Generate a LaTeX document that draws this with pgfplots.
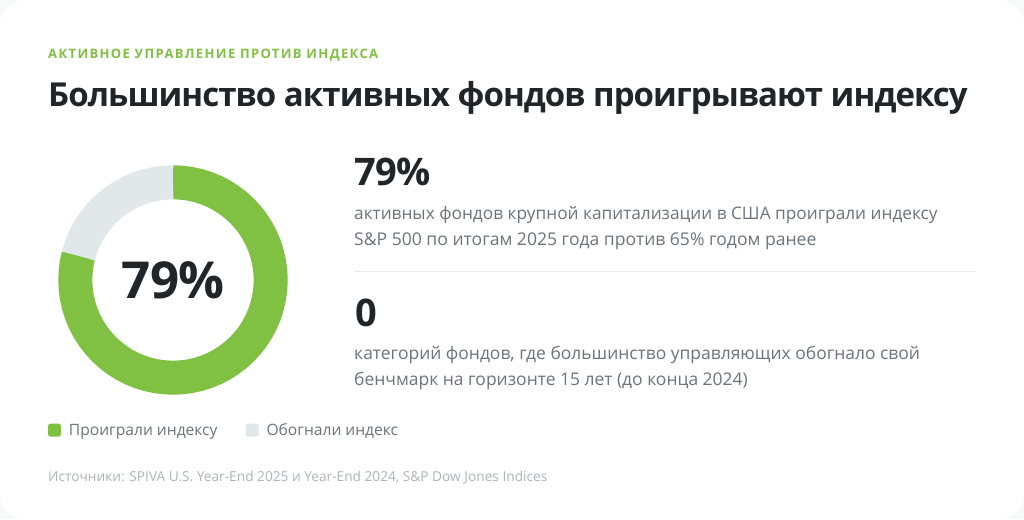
\documentclass[border=0pt]{standalone}
\usepackage{fontspec}
\setmainfont{Open Sans}
\newcommand{\semi}{\bfseries}
\usepackage{pgfplots}
\pgfplotsset{compat=1.18}
\usepgfplotslibrary{polar}
\definecolor{grn}{HTML}{80C043}
\definecolor{lgr}{HTML}{E2E7EA}
\definecolor{ink}{HTML}{1F2529}
\definecolor{body}{HTML}{6B747C}
\definecolor{src}{HTML}{AEB4BA}
\definecolor{bg}{HTML}{F8F9FA}
\definecolor{rule}{HTML}{E8ECEE}
\newcommand{\fs}[1]{\fontsize{#1}{#1}\selectfont}
\begin{document}
\begin{tikzpicture}[x=1pt,y=-1pt,yshift=519pt]
\useasboundingbox (0,0) rectangle (1024,519);
\fill[bg] (0,0) rectangle (1024,519);
\fill[white,rounded corners=24pt] (0,0) rectangle (1024,519);
\begin{polaraxis}[
  at={(173pt,-280pt)},anchor=center,
  width=230pt,height=230pt,scale only axis,
  xmin=0,xmax=360,ymin=0,ymax=115,
  axis lines=none,clip=false,
  legend columns=2,
  legend style={draw=none,fill=none,inner sep=0pt,outer sep=0pt,
    at={(-0.0435,-0.154)},anchor=west,
    font=\fs{15.6}\color{body},
    /tikz/every even column/.append style={column sep=28pt},
    nodes={inner sep=0pt,anchor=base west}},
  legend cell align=left,
  legend image code/.code={\path[#1,draw=none,fill=none,line width=0pt] (0pt,0pt) -- (21pt,0pt);\path[#1,draw=none,fill=#1,line width=0pt,rounded corners=2.5pt] (0pt,-1pt) rectangle (13pt,12pt);},
  every axis plot/.append style={line join=round}
]
\addplot[color=grn,line width=34pt,no marks] coordinates {
(90,97.7)(89.9,97.7)(85,97.7)(80,97.7)(75,97.7)(70,97.7)(65,97.7)(60,97.7)(55,97.7)(50,97.7)(45,97.7)
(40,97.7)(35,97.7)(30,97.7)(25,97.7)(20,97.7)(15,97.7)(10,97.7)(5,97.7)(0,97.7)
(-5,97.7)(-10,97.7)(-15,97.7)(-20,97.7)(-25,97.7)(-30,97.7)(-35,97.7)(-40,97.7)(-45,97.7)
(-50,97.7)(-55,97.7)(-60,97.7)(-65,97.7)(-70,97.7)(-75,97.7)(-80,97.7)(-85,97.7)(-90,97.7)
(-95,97.7)(-100,97.7)(-105,97.7)(-110,97.7)(-115,97.7)(-120,97.7)(-125,97.7)(-130,97.7)(-135,97.7)
(-140,97.7)(-145,97.7)(-150,97.7)(-155,97.7)(-160,97.7)(-165,97.7)(-170,97.7)(-175,97.7)(-180,97.7)
(-185,97.7)(-190,97.7)(-194.3,97.7)(-194.4,97.7)};
\addlegendentry{Проиграли индексу}
\addplot[color=lgr,line width=34pt,no marks] coordinates {
(165.6,97.7)(165.5,97.7)(160,97.7)(155,97.7)(150,97.7)(145,97.7)(140,97.7)(135,97.7)(130,97.7)(125,97.7)
(120,97.7)(115,97.7)(110,97.7)(105,97.7)(100,97.7)(95,97.7)(90.1,97.7)(90,97.7)};
\addlegendentry{Обогнали индекс}
\end{polaraxis}
\node[anchor=base,text=ink,inner sep=0pt] at (173.3,299) {\fs{51}\semi\addfontfeature{LetterSpace=-1.5}79\%};
\node[anchor=base west,text=grn,inner sep=0pt] at (48,58.5) {\fs{13}\semi\addfontfeature{LetterSpace=10.5}АКТИВНОЕ УПРАВЛЕНИЕ ПРОТИВ ИНДЕКСА};
\node[anchor=base west,text=ink,inner sep=0pt] at (48,107) {\fs{33}\semi\addfontfeature{LetterSpace=-2.8}Большинство активных фондов проигрывают индексу};
\node[anchor=base west,text=ink,inner sep=0pt] at (354,186) {\fs{38}\semi\addfontfeature{LetterSpace=-2}79\%};
\node[anchor=base west,text=body,inner sep=0pt] at (354,220) {\fs{17.25}активных фондов крупной капитализации в США проиграли индексу};
\node[anchor=base west,text=body,inner sep=0pt] at (354,246) {\fs{17.55}S\&P 500 по итогам 2025 года против 65\% годом ранее};
\draw[rule,line width=1pt] (354,271.5) -- (976,271.5);
\node[anchor=base west,text=ink,inner sep=0pt] at (355,327) {\fs{38}\semi 0};
\node[anchor=base west,text=body,inner sep=0pt] at (354,360) {\fs{17.45}категорий фондов, где большинство управляющих обогнало свой};
\node[anchor=base west,text=body,inner sep=0pt] at (354,386) {\fs{17.45}бенчмарк на горизонте 15 лет (до конца 2024)};
\node[anchor=base west,text=src,inner sep=0pt] at (48,481) {\fs{13.7}Источники: SPIVA U.S. Year-End 2025 и Year-End 2024, S\&P Dow Jones Indices};
\end{tikzpicture}
\end{document}
